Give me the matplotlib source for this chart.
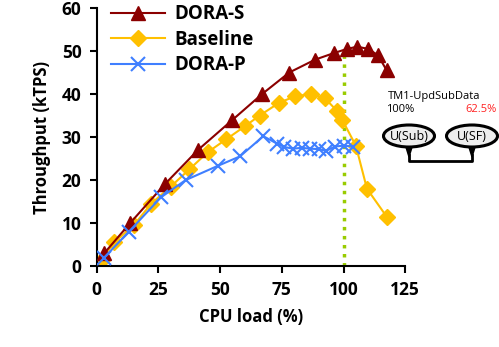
import matplotlib
matplotlib.use('Agg')
import matplotlib.pyplot as plt
from matplotlib.patches import Ellipse, Polygon
from matplotlib.lines import Line2D

plt.rcParams['font.family'] = ['Open Sans', 'DejaVu Sans']

# data
dora_s_x = [3, 13.5, 27.5, 41, 55, 67, 78, 88.5, 96, 101.5, 105.5, 110, 114, 117.5]
dora_s_y = [3, 10, 19, 27, 34, 40, 45, 48, 49.5, 50.5, 51, 50.5, 49, 45.5]

base_x = [2, 7, 15, 22, 30, 37.5, 45, 52.5, 60, 66, 74, 80.5, 87, 92.5, 97.5, 99.5, 105, 109.5, 117.5]
base_y = [1.5, 5.5, 9.5, 14.5, 18.5, 22.5, 26.5, 29.5, 32.5, 35, 38, 39.5, 40, 39, 36, 34, 28, 18, 11.5]

dora_p_x = [3, 13, 26, 36, 49, 58, 67.5, 73, 76, 79.5, 83, 86.5, 90, 93, 96.5, 100, 104]
dora_p_y = [2, 8, 16, 20, 23.3, 25.5, 30.2, 28.5, 27.7, 27.3, 27.5, 27.3, 27.2, 26.8, 27.8, 28, 27.8]

xticks = [0, 25, 50, 75, 100, 125]
yticks = [0, 10, 20, 30, 40, 50, 60]

fig = plt.figure(figsize=(4.99, 3.47), dpi=100)
ax = fig.add_axes([0.194, 0.233, 0.618, 0.744])

ax.plot([100, 100], [0, 49.5], color='#99CC00', lw=2.5, ls=(0, (1, 1.6)), zorder=1)
ax.plot(dora_s_x, dora_s_y, color='#8B0000', marker='^', ms=10, lw=1.5, label='DORA-S', zorder=3)
ax.plot(base_x, base_y, color='#FFC000', marker='D', ms=8, lw=1.5, label='Baseline', zorder=2)
ax.plot(dora_p_x, dora_p_y, color='#3F7FFF', marker='x', ms=10, mew=1.5, lw=1.5, label='DORA-P', zorder=4)

ax.set_xlim(0, 125)
ax.set_ylim(0, 60)
ax.set_xticks(xticks)
ax.set_yticks(yticks)
ax.spines['top'].set_visible(False)
ax.spines['right'].set_visible(False)
ax.spines['left'].set_linewidth(1.5)
ax.spines['bottom'].set_linewidth(1.5)
ax.tick_params(direction='out', length=5, width=1.5, labelsize=12.5, pad=6)
for lab in ax.get_xticklabels() + ax.get_yticklabels():
    lab.set_fontweight('bold')
ax.set_xlabel('CPU load (%)', fontsize=12, fontweight='bold', labelpad=6)
ax.set_ylabel('Throughput (kTPS)', fontsize=12, fontweight='bold', labelpad=8)

leg = ax.legend(loc='upper left', bbox_to_anchor=(-0.01, 1.08), frameon=False,
                prop={'size': 13.5, 'weight': 'bold'}, handlelength=2.9,
                labelspacing=0.3, handletextpad=0.5)

# annotation drawn in pixel coordinates of the figure
H = 347
def px(x, y):
    return (x / 100, (H - y) / 100)

tr = fig.dpi_scale_trans
fig.text(388 / 499, 1 - 96 / H, 'TM1-UpdSubData', fontsize=8, va='center', ha='left')
fig.text(386 / 499, 1 - 110 / H, '100%', fontsize=8, va='center', ha='left')
fig.text(497 / 499, 1 - 110 / H, '62.5%', fontsize=8, va='center', ha='right', color='#FF2020')

for cx, name in [(409, 'U(Sub)'), (472, 'U(SF)')]:
    tail = Polygon([px(cx - 4, 144), px(cx + 4, 144), px(cx, 157)], closed=True,
                   facecolor='black', edgecolor='black', transform=tr)
    fig.add_artist(tail)
    e = Ellipse(px(cx, 136), 0.51, 0.22, facecolor='#EEEEEE', edgecolor='black',
                lw=2.2, transform=tr)
    fig.add_artist(e)
    fig.text(cx / 499, 1 - 136 / H, name, fontsize=9, ha='center', va='center')

xs = [409, 409, 472, 472]
ys = [155, 161, 161, 155]
fig.add_artist(Line2D([x / 100 for x in xs], [(H - y) / 100 for y in ys],
                      color='black', lw=2, transform=tr))

fig.savefig('out.png', dpi=100)
